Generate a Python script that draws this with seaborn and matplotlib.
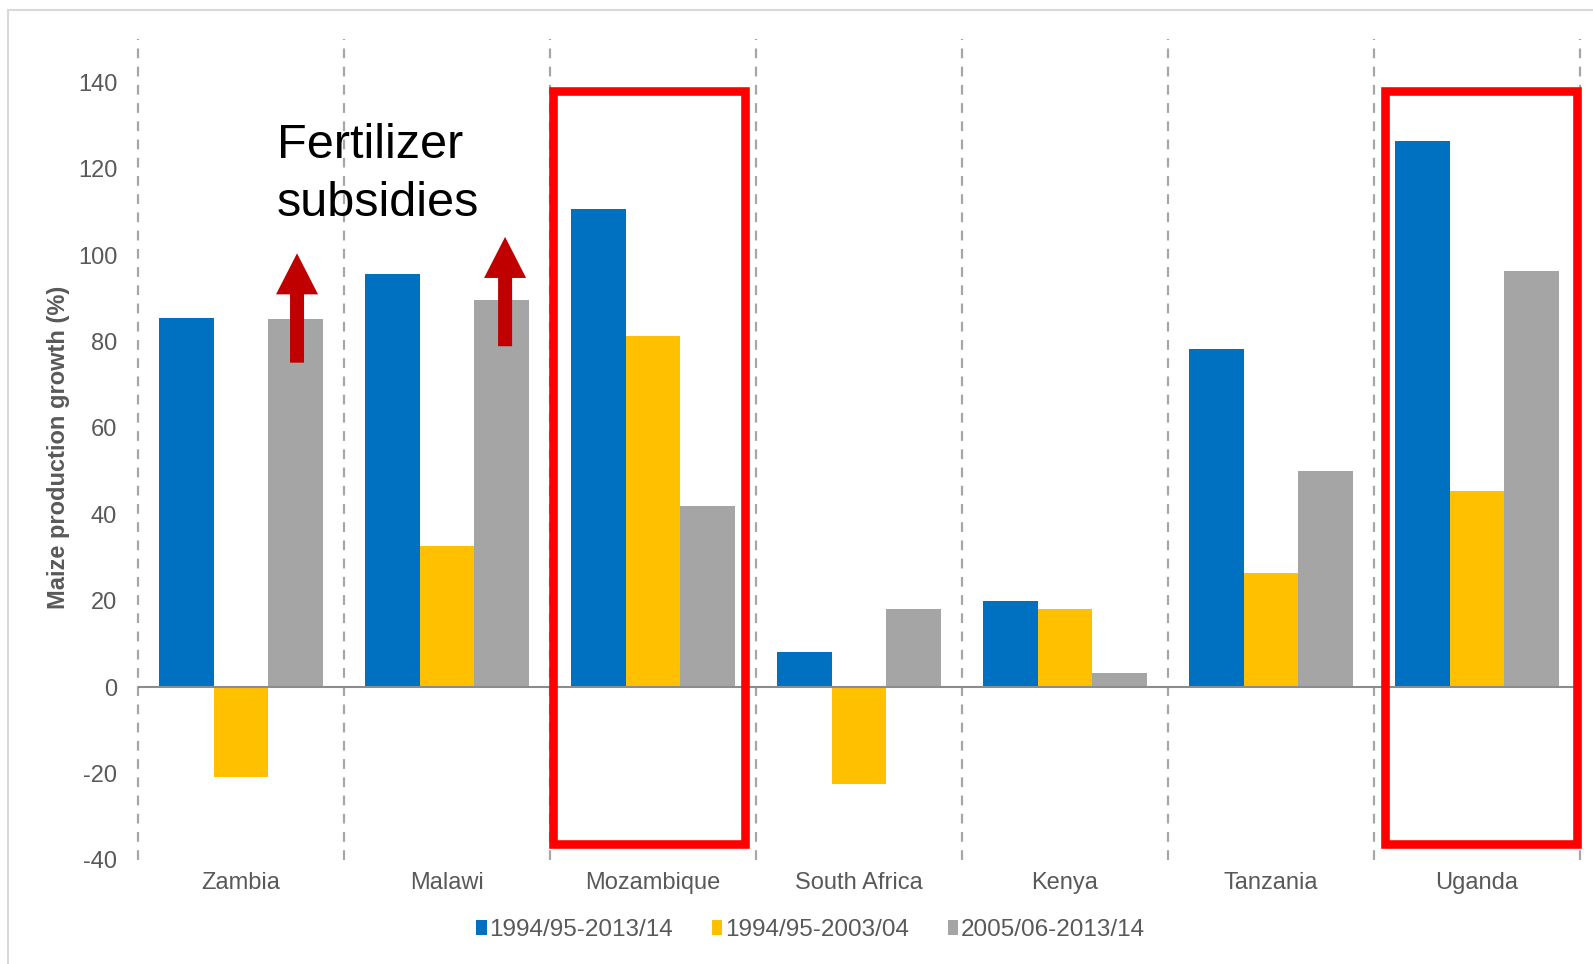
import matplotlib
matplotlib.use("Agg")
import matplotlib.pyplot as plt
from matplotlib.patches import Rectangle, FancyArrow
import seaborn as sns
import pandas as pd

# Maize production growth by country and period (%)
countries = ["Zambia", "Malawi", "Mozambique", "South Africa", "Kenya", "Tanzania", "Uganda"]
periods = ["1994/95-2013/14", "1994/95-2003/04", "2005/06-2013/14"]
growth_full = [85.5, 95.7, 110.7, 8.1, 20.0, 78.2, 126.3]
growth_early = [-20.9, 32.6, 81.3, -22.5, 18.0, 26.5, 45.5]
growth_late = [85.1, 89.6, 42.0, 18.0, 3.2, 50.0, 96.4]
yticks = [-40, -20, 0, 20, 40, 60, 80, 100, 120, 140]

colors = ["#0070C0", "#FFC000", "#A5A5A5"]

rows = []
for series, vals in zip(periods, [growth_full, growth_early, growth_late]):
    for c, v in zip(countries, vals):
        rows.append({"country": c, "period": series, "growth": v})
df = pd.DataFrame(rows)

sns.set_style("white")
plt.rcParams["font.family"] = ["Liberation Sans", "DejaVu Sans"]

fig = plt.figure(figsize=(15.93, 9.64), dpi=100)
ax = fig.add_axes([138 / 1593, 1 - 860 / 964, 1442 / 1593, 821 / 964])

sns.barplot(data=df, x="country", y="growth", hue="period", order=countries,
            hue_order=periods, palette=colors, width=0.8, gap=0, saturation=1,
            linewidth=0, errorbar=None, ax=ax, zorder=2)

ax.set_xlim(-0.5, len(countries) - 0.5)
ax.set_ylim(-40, 150)
ax.set_yticks(yticks)
ax.set_yticklabels([str(t) for t in yticks])
for s in ax.spines.values():
    s.set_visible(False)
ax.tick_params(axis="y", length=0, pad=15, labelsize=17, labelcolor="#595959")
ax.tick_params(axis="x", length=0, pad=8.5, labelsize=17, labelcolor="#595959")
ax.set_xlabel("")
ax.set_ylabel("Maize production growth (%)", fontsize=17, fontweight="bold",
              color="#595959", va="center")
ax.yaxis.set_label_coords(-0.055, 0.503)

# dashed separators between countries
for i in range(len(countries) + 1):
    ax.axvline(i - 0.5, color="#A6A6A6", lw=1.6, ls=(0, (4.4, 3.8)), zorder=1,
               clip_on=False)
ax.axhline(0, color="#8C8C8C", lw=1.5, zorder=3)

# highlighted countries
boxes = [(1.515, 2.447), (5.553, 6.486)]
for x0, x1 in boxes:
    ax.add_patch(Rectangle((x0, -36.3), x1 - x0, 138.0 + 36.3, fill=False,
                           edgecolor="#FF0000", lw=6.2, zorder=5, clip_on=False))

# subsidy arrows
arrows = [(0.272, 75.1, 100.4), (1.282, 78.9, 104.2)]
for x, y0, y1 in arrows:
    ax.add_patch(FancyArrow(x, y0, 0, y1 - y0, width=0.068, head_width=0.204,
                            head_length=9.5, length_includes_head=True,
                            color="#C00000", lw=0, zorder=6))

ax.text(0.173, 130.5, "Fertilizer\nsubsidies", fontsize=35, color="black",
        ha="left", va="top", linespacing=1.36, zorder=6)

handles, labels = ax.get_legend_handles_labels()
ax.legend(handles, labels, loc="center", bbox_to_anchor=(0.509, 0.035),
          bbox_transform=fig.transFigure, ncol=3, frameon=False,
          prop={"family": ["Liberation Sans Narrow", "Liberation Sans"], "size": 17.5},
          handlelength=0.42, handleheight=0.6, handletextpad=0.12,
          columnspacing=1.6, labelcolor="#595959")

# outer frame
fig.patches.append(Rectangle((8 / 1593, -0.1), 1.2, 1 - 10 / 964 + 0.1,
                             transform=fig.transFigure, fill=False,
                             edgecolor="#D9D9D9", lw=1.5))

fig.savefig("out.png", dpi=100)
